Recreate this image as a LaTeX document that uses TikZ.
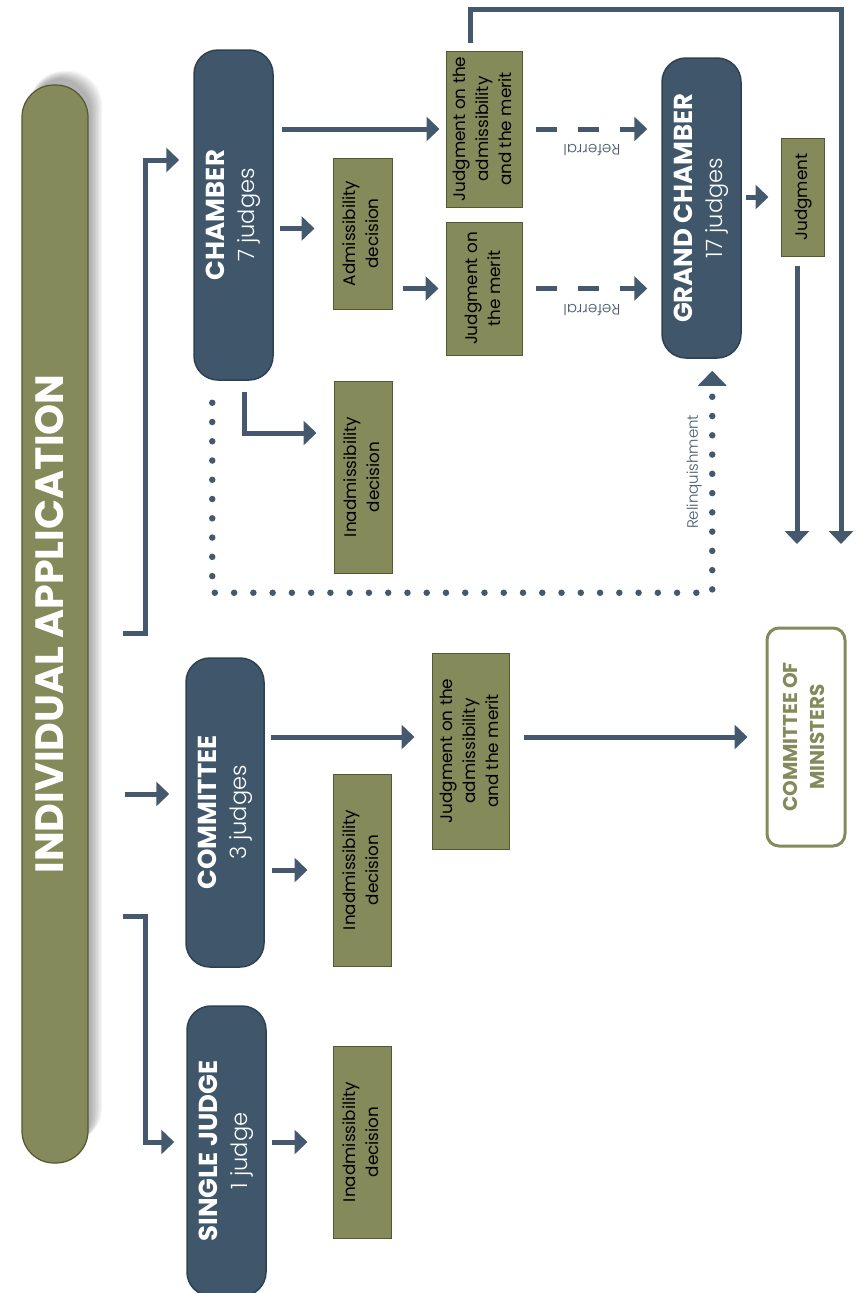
\documentclass[tikz,border=0pt]{standalone}
\usepackage{fontspec}
\usepackage{graphicx}
\setmainfont{Poppins}
\IfFontExistsTF{Poppins Light}{\newfontfamily\thinfont{Poppins Light}}{\newfontfamily\thinfont{Poppins}}
\usetikzlibrary{arrows.meta,calc}
\definecolor{slate}{HTML}{40566A}
\definecolor{slatedark}{HTML}{2E4153}
\definecolor{olive}{HTML}{848A5A}
\definecolor{olivedark}{HTML}{535833}
\definecolor{arrowc}{HTML}{44596D}
\newcommand{\vlabel}[1]{\rotatebox{90}{\begin{tabular}{@{}c@{}}#1\end{tabular}}}
\newcommand{\judges}[1]{{\thinfont\fontsize{22.5}{30}\selectfont #1}}
\tikzset{
  appl/.style={draw=olivedark, line width=1.2pt, fill=olive, rounded corners=32pt, text=white, font=\bfseries\fontsize{39.5}{44}\selectfont},
  court/.style={draw=slatedark, line width=1.5pt, fill=slate, rounded corners=24pt, text=white, font=\fontsize{26}{30}\selectfont},
  result/.style={draw=olivedark, line width=1pt, fill=olive, text=black, font=\fontsize{16.8}{23}\selectfont},
  ministers/.style={draw=olive, line width=3pt, fill=white, rounded corners=12pt, text=olive, font=\bfseries\fontsize{20}{27}\selectfont},
  arr/.style={draw=arrowc, line width=5pt, -{Triangle[length=13pt,width=24pt]}},
  referral/.style={arr, dash pattern=on 21pt off 21pt},
  relq/.style={draw=arrowc, line width=6.5pt, line cap=round, dash pattern=on 0pt off 19.26pt, -{Triangle[length=15pt,width=28pt]}},
  linklabel/.style={text=arrowc, font=\thinfont\fontsize{15}{18}\selectfont},
}
\begin{document}
\begin{tikzpicture}[x=1pt,y=1pt]
\tikzstyle{every node}+=[inner sep=0pt]
\useasboundingbox (0,0) rectangle (859,-1293);
% shadow of the application bar
\foreach \d in {1,...,8}
  \fill[black, opacity=0.045, rounded corners=34pt] (30,-79+\d) rectangle (90+1.5*\d,-1150+\d);
\node[appl, minimum width=66pt, minimum height=1078pt] (ia) at (55,-624) {\vlabel{INDIVIDUAL APPLICATION}};
% formations
\node[court, minimum width=79pt, minimum height=330pt] (chamber) at (233.5,-215) {\vlabel{\textbf{CHAMBER}\\ \judges{7 judges}}};
\node[court, minimum width=78pt, minimum height=309pt] (committee) at (225,-812.5) {\vlabel{\textbf{COMMITTEE}\\ \judges{3 judges}}};
\node[court, minimum width=79pt, minimum height=290pt] (single) at (226.5,-1151) {\vlabel{\textbf{SINGLE JUDGE}\\ \judges{1 judge}}};
\node[court, minimum width=79pt, minimum height=300pt] (gc) at (701.5,-208) {\vlabel{\textbf{GRAND CHAMBER}\\ \judges{17 judges}}};
% decisions
\node[result, minimum width=59pt, minimum height=151pt] (cadm) at (362.5,-233.5) {\vlabel{Admissibility\\ decision}};
\node[result, minimum width=76pt, minimum height=156pt] (jtop) at (484,-129) {\vlabel{Judgment on the\\ admissibility\\ and the merit}};
\node[result, minimum width=76pt, minimum height=133pt] (jmerit) at (484,-288.5) {\vlabel{Judgment on\\ the merit}};
\node[result, minimum width=58pt, minimum height=192pt] (cinad) at (363,-477) {\vlabel{Inadmissibility\\ decision}};
\node[result, minimum width=43pt, minimum height=118pt] (gcjudg) at (802.5,-197) {\vlabel{Judgment}};
\node[result, minimum width=58pt, minimum height=192pt] (minad) at (362,-870) {\vlabel{Inadmissibility\\ decision}};
\node[result, minimum width=77pt, minimum height=196pt] (mjudg) at (470.5,-751) {\vlabel{Judgment on the\\ admissibility\\ and the merit}};
\node[result, minimum width=58pt, minimum height=192pt] (sinad) at (362,-1142) {\vlabel{Inadmissibility\\ decision}};
\node[ministers, minimum width=78pt, minimum height=218pt] (com) at (806,-737) {\vlabel{COMMITTEE OF\\ MINISTERS}};
\coordinate (out1) at (841,-544);
\coordinate (out2) at (797,-544);
% from the application
\draw[arr] ($(ia.east)+(34,-9)$) -- ++(23,0) |- ($(chamber.west)+(-14,55)$);
\draw[arr] ($(ia.east)+(36,-170)$) -- ($(committee.west)+(-16,18.5)$);
\draw[arr] ($(ia.east)+(34,-292)$) -- ++(23,0) |- ($(single.west)+(-12,9)$);
% chamber
\draw[arr, shorten <=8pt, shorten >=6pt] (chamber.east |- jtop) -- (jtop.west);
\draw[arr, shorten <=6pt, shorten >=18pt] ($(chamber.east |- cadm)+(0,5)$) -- ($(cadm.west)+(0,5)$);
\draw[arr, shorten <=10pt, shorten >=7pt] (cadm.east |- jmerit) -- (jmerit.west);
\draw[arr, shorten >=17pt] ($(chamber.south)+(10.5,-11)$) |- ($(cinad.west)+(0,44)$);
\draw[referral, shorten <=13pt, shorten >=14pt] (jtop.east) -- (gc.west |- jtop)
  node[linklabel, midway, yshift=-21pt, rotate=180] (ref1) {Referral};
\draw[referral, shorten <=13pt, shorten >=14pt] (jmerit.east) -- (gc.west |- jmerit)
  node[linklabel, midway, yshift=-21.5pt, rotate=180] (ref2) {Referral};
\draw[relq] ($(chamber.south west)+(19,-22)$) -- ++(0,-190) -| ($(gc.south west)+(51,-12)$);
\node[linklabel, rotate=90] (relqlabel) at ($(gc.south west)+(33,-113)$) {Relinquishment};
% grand chamber
\draw[arr, shorten <=4pt, shorten >=12pt] (gc.east |- gcjudg) -- (gcjudg.west);
\draw[arr] ($(jtop.north)+(-14,8)$) -- ++(0,33) -| (out1);
\draw[arr] ($(gcjudg.south -| out2)+(0,-9)$) -- (out2);
% committee and single judge
\draw[arr, shorten <=6pt, shorten >=17pt] (committee.east |- com) -- (mjudg.west |- com);
\draw[arr, shorten <=7pt, shorten >=25pt] (committee.east |- minad) -- (minad.west);
\draw[arr, shorten <=14pt, shorten >=18pt] (mjudg.east |- com) -- (com.west);
\draw[arr, shorten <=5pt, shorten >=25pt] (single.east |- sinad) -- (sinad.west);
\end{tikzpicture}
\end{document}
